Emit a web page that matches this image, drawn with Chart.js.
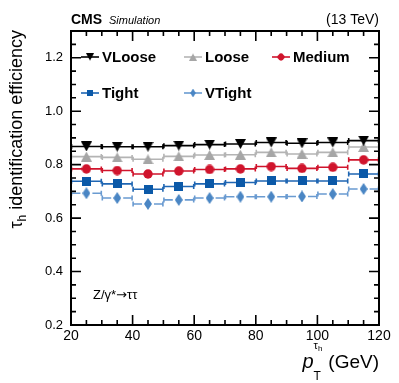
<!DOCTYPE html>
<html>
<head>
<meta charset="utf-8">
<script src="https://cdn.jsdelivr.net/npm/chart.js@4.4.1/dist/chart.umd.min.js"></script>
<style>
  html, body { margin: 0; padding: 0; background: #fff; }
  #wrap { width: 399px; height: 383px; }
</style>
</head>
<body>
<div id="wrap"><canvas id="effChart" width="399" height="383"></canvas></div>
<script>
try {

  // Data: tau_h ID efficiency vs pT (Z/gamma* -> tautau simulation)
  const binCenters = [25, 35, 45, 55, 65, 75, 85, 95, 105, 115];
  const binHalfWidth = 5;
  const effVLoose = [0.868, 0.867, 0.867, 0.871, 0.875, 0.877, 0.883, 0.880, 0.883, 0.890];
  const effLoose  = [0.830, 0.827, 0.820, 0.831, 0.836, 0.837, 0.846, 0.840, 0.846, 0.866];
  const effMedium = [0.784, 0.778, 0.765, 0.776, 0.782, 0.784, 0.793, 0.786, 0.790, 0.818];
  const effTight  = [0.738, 0.728, 0.708, 0.718, 0.728, 0.733, 0.739, 0.739, 0.739, 0.765];
  const effVTight = [0.693, 0.675, 0.653, 0.668, 0.675, 0.680, 0.680, 0.681, 0.690, 0.709];
  const wpNames = ['VLoose', 'Loose', 'Medium', 'Tight', 'VTight'];
  const xTickLabels = [20, 40, 60, 80, 100, 120];
  const yTickLabels = [0.2, 0.4, 0.6, 0.8, 1.0, 1.2];

  const FONT = '"Liberation Sans", Arial, Helvetica, sans-serif';

  // marker images, shared by the points and the legend
  function makeMarker(shape, color, w, h) {
    const c = document.createElement('canvas');
    c.width = w; c.height = h;
    const g = c.getContext('2d');
    g.fillStyle = color;
    g.beginPath();
    if (shape === 'down') {
      g.moveTo(0, 0); g.lineTo(w, 0); g.lineTo(w / 2, h);
    } else if (shape === 'up') {
      g.moveTo(w / 2, 0); g.lineTo(w, h); g.lineTo(0, h);
    } else if (shape === 'circle') {
      g.arc(w / 2, h / 2, w / 2 - 0.3, 0, Math.PI * 2);
    } else if (shape === 'square') {
      g.rect(0, 0, w, h);
    } else if (shape === 'diamond') {
      g.moveTo(w / 2, 0); g.lineTo(w, h / 2); g.lineTo(w / 2, h); g.lineTo(0, h / 2);
    }
    g.closePath();
    g.fill();
    return c;
  }

  const styles = [
    { marker: makeMarker('down', '#000000', 11, 10), line: '#000000', gap: 0 },
    { marker: makeMarker('up', '#a6a6a6', 11, 10), line: '#b4b4b4', gap: 0 },
    { marker: makeMarker('circle', '#d0142c', 10, 10), line: '#d0142c', gap: 0 },
    { marker: makeMarker('square', '#0b59a8', 9, 9), line: '#1f66b3', gap: 0 },
    { marker: makeMarker('diamond', '#4a86c4', 8, 12), line: '#6a9bd1', gap: 6 }
  ];
  const allEff = [effVLoose, effLoose, effMedium, effTight, effVTight];

  const datasets = wpNames.map((name, i) => ({
    label: name,
    data: binCenters.map((x, j) => ({ x: x, y: allEff[i][j] })),
    pointStyle: styles[i].marker,
    pointRadius: 6,
    pointHoverRadius: 6,
    showLine: false,
    borderColor: styles[i].line,
    backgroundColor: styles[i].line
  }));

  // horizontal error bars = bin widths
  const binBars = {
    id: 'binBars',
    beforeDatasetsDraw(chart) {
      const ctx = chart.ctx;
      const xs = chart.scales.x;
      ctx.save();
      ctx.lineWidth = 1.6;
      chart.data.datasets.forEach((ds, i) => {
        const meta = chart.getDatasetMeta(i);
        ctx.strokeStyle = styles[i].line;
        ctx.beginPath();
        meta.data.forEach((pt, j) => {
          const xc = ds.data[j].x;
          const x0 = xs.getPixelForValue(xc - binHalfWidth);
          const x1 = xs.getPixelForValue(xc + binHalfWidth);
          const g = styles[i].gap;
          ctx.moveTo(x0, pt.y); ctx.lineTo(pt.x - g, pt.y);
          ctx.moveTo(pt.x + g, pt.y); ctx.lineTo(x1, pt.y);
          ctx.moveTo(x0 + 0.5, pt.y - 2.5); ctx.lineTo(x0 + 0.5, pt.y + 2.5);
          ctx.moveTo(x1 - 0.5, pt.y - 2.5); ctx.lineTo(x1 - 0.5, pt.y + 2.5);
        });
        ctx.stroke();
      });
      ctx.restore();
    }
  };

  // frame, inward ticks, legend and all the texts
  const decor = {
    id: 'decor',
    afterDraw(chart) {
      const ctx = chart.ctx;
      const a = chart.chartArea;
      const xs = chart.scales.x, ys = chart.scales.y;
      ctx.save();

      ctx.strokeStyle = '#000';
      ctx.lineWidth = 1.6;
      ctx.beginPath();
      for (let v = 20; v <= 120; v += 5) {
        const px = xs.getPixelForValue(v);
        const len = xTickLabels.includes(v) ? 10 : 5;
        ctx.moveTo(px, a.bottom); ctx.lineTo(px, a.bottom - len);
        ctx.moveTo(px, a.top); ctx.lineTo(px, a.top + len);
      }
      for (let k = 4; k <= 26; k++) {
        const py = ys.getPixelForValue(k * 0.05);
        const len = k % 4 === 0 ? 10 : 5;
        ctx.moveTo(a.left, py); ctx.lineTo(a.left + len, py);
        ctx.moveTo(a.right, py); ctx.lineTo(a.right - len, py);
      }
      ctx.stroke();
      ctx.lineWidth = 2;
      ctx.strokeRect(a.left, a.top, a.right - a.left, a.bottom - a.top);

      // legend (smaller markers than in the plot)
      const legPos = [[90, 57], [193, 57], [281, 57], [90, 93], [193, 93]];
      ctx.font = 'bold 15px ' + FONT;
      ctx.textBaseline = 'middle';
      ctx.textAlign = 'left';
      wpNames.forEach((name, i) => {
        const [mx, my] = legPos[i];
        ctx.strokeStyle = styles[i].line;
        ctx.lineWidth = 1.6;
        ctx.beginPath();
        ctx.moveTo(mx - 9, my); ctx.lineTo(mx + 9, my);
        ctx.stroke();
        const m = styles[i].marker;
        const mw = m.width * 0.72, mh = m.height * 0.72;
        ctx.drawImage(m, mx - mw / 2, my - mh / 2, mw, mh);
        ctx.fillStyle = '#000';
        ctx.fillText(name, mx + 12, my + 1);
      });

      // header
      ctx.textBaseline = 'alphabetic';
      ctx.fillStyle = '#000';
      ctx.font = 'bold 14px ' + FONT;
      ctx.fillText('CMS', 71, 24);
      ctx.font = 'italic 11px ' + FONT;
      ctx.fillText('Simulation', 109, 24);
      ctx.font = '14px ' + FONT;
      ctx.textAlign = 'right';
      ctx.fillText('(13 TeV)', 379, 24);

      // process label
      ctx.textAlign = 'left';
      let px = 93;
      ctx.font = '13px ' + FONT;
      ctx.fillText('Z/\u03b3*', px, 299);
      px += ctx.measureText('Z/\u03b3*').width;
      ctx.font = '13px "DejaVu Sans", sans-serif';
      ctx.fillText('\u2192', px, 299);
      px += ctx.measureText('\u2192').width;
      ctx.font = '13px ' + FONT;
      ctx.fillText('\u03c4\u03c4', px, 299);

      // x title
      ctx.font = '19px ' + FONT;
      ctx.textAlign = 'right';
      ctx.fillText('(GeV)', 379, 368);
      const wGeV = ctx.measureText('(GeV)').width;
      ctx.textAlign = 'left';
      ctx.font = '12px ' + FONT;
      const wT = ctx.measureText('T').width;
      ctx.font = '11px ' + FONT;
      const wTau = ctx.measureText('\u03c4').width;
      ctx.font = '8px ' + FONT;
      const wh = ctx.measureText('h').width;
      const block = Math.max(wT, wTau + wh);
      const bx = 379 - wGeV - 6 - block;
      ctx.font = '12px ' + FONT;
      ctx.fillText('T', bx, 380);
      ctx.font = '11px ' + FONT;
      ctx.fillText('\u03c4', bx, 349);
      ctx.font = '8px ' + FONT;
      ctx.fillText('h', bx + wTau, 351);
      ctx.font = 'italic 20px ' + FONT;
      ctx.textAlign = 'right';
      ctx.fillText('p', bx, 368);

      // y title, rotated, ending at the top
      ctx.save();
      ctx.translate(22, 30);
      ctx.rotate(-Math.PI / 2);
      ctx.textAlign = 'left';
      const mainF = '18px ' + FONT, subF = '12px ' + FONT;
      ctx.font = mainF; const w1 = ctx.measureText('\u03c4').width;
      ctx.font = subF; const w2 = ctx.measureText('h').width;
      ctx.font = mainF; const w3 = ctx.measureText(' identification efficiency').width;
      let cx = -(w1 + w2 + w3);
      ctx.font = mainF; ctx.fillText('\u03c4', cx, 0); cx += w1;
      ctx.font = subF; ctx.fillText('h', cx, 4); cx += w2;
      ctx.font = mainF; ctx.fillText(' identification efficiency', cx, 0);
      ctx.restore();

      ctx.restore();
    }
  };

  const chart = new Chart(document.getElementById('effChart').getContext('2d'), {
    type: 'scatter',
    data: { datasets: datasets },
    options: {
      responsive: false,
      devicePixelRatio: 1,
      animation: false,
      layout: { padding: { top: 31, right: 20, left: 0, bottom: 0 } },
      plugins: { legend: { display: false }, tooltip: { enabled: false } },
      scales: {
        x: {
          type: 'linear', min: 20, max: 120,
          grid: { display: false, drawTicks: false },
          border: { display: false },
          afterBuildTicks: s => { s.ticks = xTickLabels.map(v => ({ value: v })); },
          afterFit: s => { s.height = 58; },
          ticks: { padding: 3, maxRotation: 0, color: '#000', font: { size: 14, family: FONT } }
        },
        y: {
          type: 'linear', min: 0.2, max: 1.3,
          grid: { display: false, drawTicks: false },
          border: { display: false },
          afterBuildTicks: s => { s.ticks = yTickLabels.map(v => ({ value: v })); },
          afterFit: s => { s.width = 71; },
          ticks: {
            padding: 8, color: '#000', font: { size: 13, family: FONT },
            callback: v => Number(v).toFixed(1)
          }
        }
      }
    },
    plugins: [binBars, decor]
  });

} catch (e) {
  console.log(e);
}
</script>
</body>
</html>
